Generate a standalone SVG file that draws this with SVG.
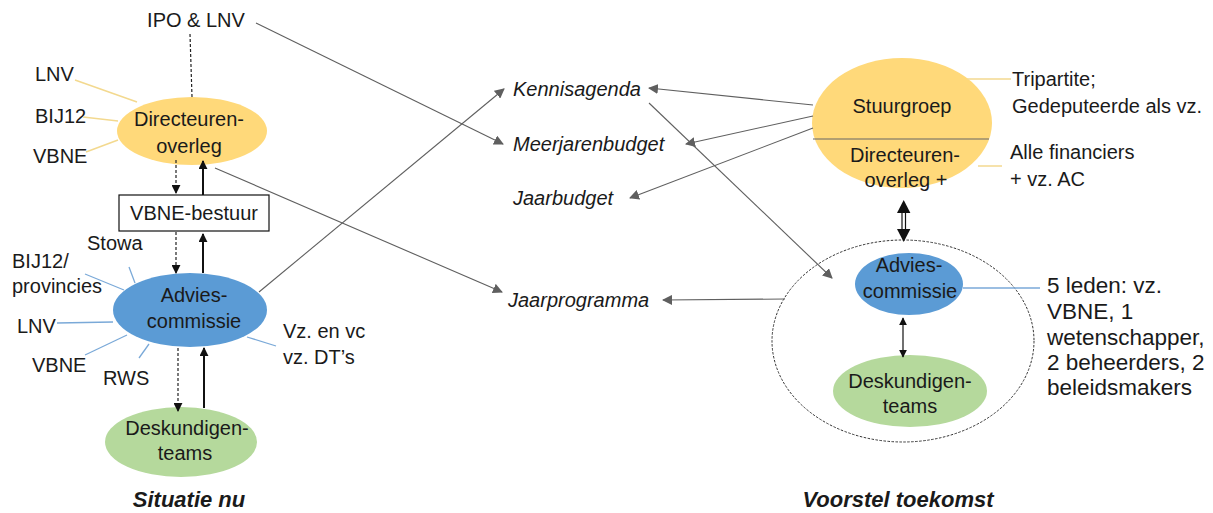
<svg xmlns="http://www.w3.org/2000/svg" width="1213" height="513" viewBox="0 0 1213 513">
<style>
text{font-family:"Liberation Sans",Arial,sans-serif;font-size:20px;fill:#1a1a1a}
.c{text-anchor:middle}
.i{font-style:italic}
.t{font-style:italic;font-weight:bold;font-size:22px}
.big{font-size:22.5px}
.con{stroke:#5f5f5f;stroke-width:1.1;fill:none}
.ly{stroke:#f3d98f;stroke-width:1.5;fill:none}
.lb{stroke:#7aa9d8;stroke-width:1.3;fill:none}
.dash{stroke:#222;stroke-width:1.2;stroke-dasharray:3,2;fill:none}
.solid{stroke:#111;stroke-width:2;fill:none}
.yel{fill:#FFD97A}
.blu{fill:#5B9BD5}
.grn{fill:#B5D99C}
</style>
<defs>
<marker id="ag" viewBox="0 0 10 10" refX="9" refY="5" markerWidth="10" markerHeight="10" markerUnits="userSpaceOnUse" orient="auto"><path d="M0,0 L10,5 L0,10 z" fill="#5f5f5f"/></marker>
<marker id="ab" viewBox="0 0 10 10" refX="9" refY="5" markerWidth="9" markerHeight="9" markerUnits="userSpaceOnUse" orient="auto"><path d="M0,0 L10,5 L0,10 z" fill="#111"/></marker>
<marker id="ab2" viewBox="0 0 10 10" refX="9" refY="5" markerWidth="8" markerHeight="8" markerUnits="userSpaceOnUse" orient="auto-start-reverse"><path d="M0,0 L10,5 L0,10 z" fill="#111"/></marker>
</defs>

<!-- Left: Situatie nu -->
<g id="ipo-lnv"><text class="c" x="196" y="27">IPO &amp; LNV</text></g>

<g id="directeurenoverleg">
<ellipse class="yel" cx="192" cy="131" rx="75" ry="34"/>
<text class="c" x="189" y="126">Directeuren-</text>
<text class="c" x="189" y="153">overleg</text>
</g>
<g id="do-labels">
<text x="35" y="81">LNV</text>
<text x="35" y="123">BIJ12</text>
<text x="33" y="163">VBNE</text>
<line class="ly" x1="75" y1="80" x2="137" y2="102"/>
<line class="ly" x1="83" y1="117" x2="118" y2="121"/>
<line class="ly" x1="86" y1="152" x2="118" y2="140"/>
</g>

<g id="vbne-bestuur">
<rect x="119" y="195" width="150" height="36" fill="#fff" stroke="#111" stroke-width="1.2"/>
<text class="c" x="194" y="220">VBNE-bestuur</text>
</g>

<g id="adviescommissie">
<ellipse class="blu" cx="190" cy="310" rx="77" ry="37"/>
<text class="c" x="194" y="302">Advies-</text>
<text class="c" x="194" y="328">commissie</text>
</g>
<g id="ac-labels">
<text x="87" y="250">Stowa</text>
<text x="12" y="268">BIJ12/</text>
<text x="12" y="293">provincies</text>
<text x="17" y="333">LNV</text>
<text x="32" y="372">VBNE</text>
<text x="103" y="385">RWS</text>
<text x="283" y="338">Vz. en vc</text>
<text x="283" y="364">vz. DT’s</text>
<line class="lb" x1="129" y1="267" x2="135" y2="283"/>
<line class="lb" x1="85" y1="274" x2="124" y2="290"/>
<line class="lb" x1="57" y1="323" x2="113" y2="322"/>
<line class="lb" x1="85" y1="355" x2="127" y2="335"/>
<line class="lb" x1="139" y1="358" x2="149" y2="344"/>
<line class="lb" x1="247" y1="337" x2="276" y2="346"/>
</g>

<g id="deskundigenteams">
<ellipse class="grn" cx="181" cy="442" rx="76" ry="35"/>
<text class="c" x="187" y="435">Deskundigen-</text>
<text class="c" x="185" y="460">teams</text>
</g>

<g id="title-left"><text class="t c" x="189" y="507">Situatie nu</text></g>

<!-- Middle products -->
<g id="kennisagenda"><text class="i" x="513" y="96">Kennisagenda</text></g>
<g id="meerjarenbudget"><text class="i" x="513" y="151">Meerjarenbudget</text></g>
<g id="jaarbudget"><text class="i" x="513" y="205">Jaarbudget</text></g>
<g id="jaarprogramma"><text class="i" x="508" y="307">Jaarprogramma</text></g>

<!-- Right: Voorstel toekomst -->
<g id="stuurgroep">
<ellipse class="yel" cx="902" cy="123" rx="90" ry="65"/>
<line x1="813" y1="139" x2="989" y2="139" stroke="#666" stroke-width="1.2"/>
<text class="c" x="902" y="113">Stuurgroep</text>
<text class="c" x="905" y="162">Directeuren-</text>
<text class="c" x="906" y="187">overleg +</text>
</g>
<g id="sg-labels">
<line class="ly" x1="967" y1="79" x2="1011" y2="79"/>
<line class="ly" x1="978" y1="166" x2="1002" y2="166"/>
<text x="1012" y="86">Tripartite;</text>
<text x="1012" y="113">Gedeputeerde als vz.</text>
<text x="1010" y="159">Alle financiers</text>
<text x="1010" y="186">+ vz. AC</text>
</g>

<g id="cluster">
<ellipse cx="903" cy="341" rx="131" ry="101" fill="none" stroke="#333" stroke-width="1" stroke-dasharray="2.5,1.5"/>
</g>

<g id="adviescommissie-nieuw">
<ellipse class="blu" cx="909" cy="284" rx="54" ry="31"/>
<text class="c" x="909" y="272">Advies-</text>
<text class="c" x="910" y="298">commissie</text>
</g>
<g id="ac-nieuw-label">
<line class="lb" x1="963" y1="288" x2="1040" y2="288"/>
<text class="big" x="1047" y="293">5 leden: vz.</text>
<text class="big" x="1047" y="319">VBNE, 1</text>
<text class="big" x="1047" y="345">wetenschapper,</text>
<text class="big" x="1047" y="370">2 beheerders, 2</text>
<text class="big" x="1047" y="395">beleidsmakers</text>
</g>

<g id="deskundigenteams-nieuw">
<ellipse class="grn" cx="910" cy="391" rx="77" ry="36"/>
<text class="c" x="910" y="388">Deskundigen-</text>
<text class="c" x="910" y="413">teams</text>
</g>

<g id="title-right"><text class="t c" x="898" y="507">Voorstel toekomst</text></g>

<!-- Connectors -->
<g id="connectors">
<line class="dash" x1="190" y1="34" x2="192" y2="97"/>
<line class="dash" x1="176" y1="160" x2="176" y2="193" marker-end="url(#ab)"/>
<line class="solid" x1="203" y1="195" x2="203" y2="161" marker-end="url(#ab)"/>
<line class="dash" x1="176" y1="232" x2="176" y2="273" marker-end="url(#ab)"/>
<line class="solid" x1="203" y1="273" x2="203" y2="234" marker-end="url(#ab)"/>
<line class="dash" x1="178" y1="348" x2="178" y2="411" marker-end="url(#ab)"/>
<line class="solid" x1="204" y1="408" x2="204" y2="348" marker-end="url(#ab)"/>

<line class="con" x1="256" y1="23" x2="503" y2="144" marker-end="url(#ag)"/>
<line class="con" x1="259" y1="292" x2="504" y2="89" marker-end="url(#ag)"/>
<line class="con" x1="215" y1="168" x2="502" y2="292" marker-end="url(#ag)"/>
<line class="con" x1="813" y1="105" x2="649" y2="88" marker-end="url(#ag)"/>
<line class="con" x1="813" y1="116" x2="686" y2="144" marker-end="url(#ag)"/>
<line class="con" x1="813" y1="128" x2="630" y2="198" marker-end="url(#ag)"/>
<line class="con" x1="649" y1="103" x2="832" y2="278" marker-end="url(#ag)"/>
<line class="con" x1="785" y1="299" x2="663" y2="300" marker-end="url(#ag)"/>

<!-- thick double arrow -->
<line x1="902" y1="211" x2="902" y2="231" stroke="#111" stroke-width="1.2"/>
<line x1="905.5" y1="211" x2="905.5" y2="231" stroke="#111" stroke-width="1.2"/>
<path d="M903.7,200 L897,213 L910.4,213 z" fill="#111"/>
<path d="M903.7,242 L897,229 L910.4,229 z" fill="#111"/>

<line x1="903" y1="318" x2="903" y2="357" stroke="#111" stroke-width="1.2" marker-start="url(#ab2)" marker-end="url(#ab2)"/>
</g>
</svg>
